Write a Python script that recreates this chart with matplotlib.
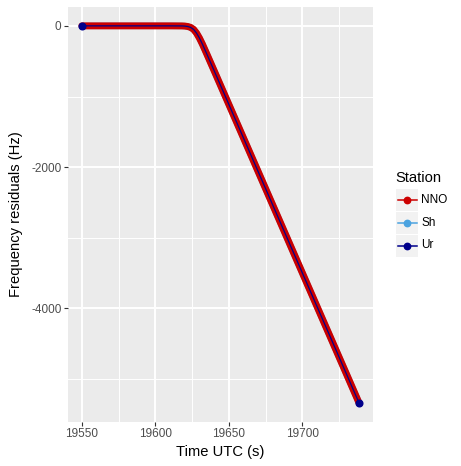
import matplotlib
matplotlib.use("Agg")
import matplotlib.pyplot as plt
from matplotlib.patches import Rectangle
from matplotlib.lines import Line2D

plt.rcParams['font.family'] = ['Liberation Sans', 'DejaVu Sans']

# Data (all stations overlap)
time_s = [19550, 19560, 19570, 19580, 19590, 19600, 19610, 19618, 19620, 19622,
          19624, 19626, 19628, 19630, 19632, 19635, 19640, 19650, 19660, 19670,
          19680, 19690, 19700, 19710, 19720, 19730, 19738.6]
resid_hz = [0, 0, 0, 0, 0, 0, 0, -1, -3, -9,
            -22, -50, -102, -174, -259, -399, -636, -1113, -1590, -2067,
            -2544, -3021, -3498, -3975, -4452, -4929, -5340]
stations = ['NNO', 'Sh', 'Ur']
colors = {'NNO': '#CC0000', 'Sh': '#4BA3E0', 'Ur': '#00008B'}
x_ticks = [19550, 19600, 19650, 19700]
x_minor = [19575, 19625, 19675, 19725]
y_ticks = [0, -2000, -4000]
y_minor = [-1000, -3000, -5000]

W, H = 461, 466
fig = plt.figure(figsize=(W / 100, H / 100), dpi=100)
L, R, T, B = 68, 373, 7, 422
ax = fig.add_axes([L / W, 1 - B / H, (R - L) / W, (B - T) / H])
ax.set_facecolor('#EBEBEB')
for s in ax.spines.values():
    s.set_visible(False)

rng = max(time_s) - min(time_s)
ax.set_xlim(min(time_s) - 0.05 * rng, max(time_s) + 0.05 * rng)
yr = max(resid_hz) - min(resid_hz)
ax.set_ylim(min(resid_hz) - 0.05 * yr, max(resid_hz) + 0.05 * yr)

for v in x_minor:
    ax.axvline(v, color='white', lw=0.7, zorder=0)
for v in y_minor:
    ax.axhline(v, color='white', lw=0.7, zorder=0)
for v in x_ticks:
    ax.axvline(v, color='white', lw=1.4, zorder=0)
for v in y_ticks:
    ax.axhline(v, color='white', lw=1.4, zorder=0)

# Sh (hidden beneath), NNO thick red, Ur navy on top
ax.plot(time_s, resid_hz, color=colors['Sh'], lw=4.6, zorder=2, solid_capstyle='round')
ax.plot(time_s, resid_hz, color=colors['NNO'], lw=5.0, zorder=3, solid_capstyle='round')
ax.plot(time_s, resid_hz, color=colors['Ur'], lw=0.9, zorder=4)
ax.plot([time_s[0], time_s[-1]], [resid_hz[0], resid_hz[-1]], 'o',
        color=colors['Ur'], ms=4.8, zorder=5)

ax.set_xticks(x_ticks)
ax.set_xticklabels([str(v) for v in x_ticks])
ax.set_yticks(y_ticks)
ax.set_yticklabels([str(v) for v in y_ticks])
ax.tick_params(axis='both', length=2.6, width=0.8, color='#333333',
               labelcolor='#4D4D4D', labelsize=8.45, pad=2)
ax.set_xlabel('Time UTC (s)', fontsize=10.6, color='black', labelpad=3)
ax.set_ylabel('Frequency residuals (Hz)', fontsize=10.6, color='black', labelpad=6)

# Legend (manual, ggplot style)
lg = fig.add_axes([0, 0, 1, 1], facecolor='none')
lg.set_xlim(0, W)
lg.set_ylim(H, 0)
lg.axis('off')
lg.text(395, 178, 'Station', fontsize=10.6, va='center', ha='left')
key_y = [200, 222.5, 245.5]
for st, ky in zip(stations, key_y):
    lg.add_patch(Rectangle((396, ky - 11), 22, 22, facecolor='#F2F2F2', edgecolor='none'))
    lg.add_line(Line2D([397.5, 416.5], [ky, ky], color=colors[st], lw=1.1))
    lg.plot([407], [ky], 'o', color=colors[st], ms=4.6)
    lg.text(421, ky, st, fontsize=8.45, va='center', ha='left')

fig.savefig('out.png', dpi=100)
